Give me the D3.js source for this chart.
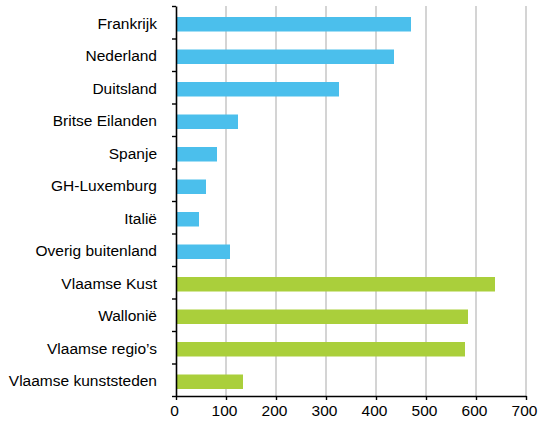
<!DOCTYPE html>
<html>
<head>
<meta charset="utf-8">
<script src="https://cdn.jsdelivr.net/npm/d3@7"></script>
<style>
  body { margin: 0; background: #fff; }
  text { font-family: "Liberation Sans", Arial, sans-serif; }
</style>
</head>
<body>
<div id="chart"></div>
<script>
const width = 540, height = 422, margin = {top: 6, right: 14, bottom: 26, left: 176};

const categories = ["Frankrijk", "Nederland", "Duitsland", "Britse Eilanden", "Spanje", "GH-Luxemburg",
  "Italië", "Overig buitenland", "Vlaamse Kust", "Wallonië", "Vlaamse regio’s", "Vlaamse kunststeden"];
const values = [470, 436, 326, 124, 82, 60, 46, 108, 638, 584, 578, 134];
const groups = ["abroad", "abroad", "abroad", "abroad", "abroad", "abroad", "abroad", "abroad",
  "home", "home", "home", "home"];
const xTicks = [0, 100, 200, 300, 400, 500, 600, 700];

const colors = {abroad: "#4bbfec", home: "#aacf3b"};

const data = categories.map((c, i) => ({name: c, value: values[i], group: groups[i]}));

const svg = d3.select("#chart")
  .append("svg")
  .attr("width", width)
  .attr("height", height);

const x = d3.scaleLinear()
  .domain([0, 700])
  .range([margin.left, width - margin.right]);

const y = d3.scaleBand()
  .domain(categories)
  .range([margin.top, height - margin.bottom]);

// gridlines
svg.append("g")
  .selectAll("line")
  .data(xTicks.slice(1))
  .join("line")
  .attr("x1", d => x(d))
  .attr("x2", d => x(d))
  .attr("y1", margin.top)
  .attr("y2", height - margin.bottom)
  .attr("stroke", "#b8b8b8")
  .attr("stroke-width", 1.2);

const barH = 14.5;
svg.append("g")
  .selectAll("rect")
  .data(data)
  .join("rect")
  .attr("x", x(0))
  .attr("y", d => y(d.name) + (y.bandwidth() - barH) / 2 + 2)
  .attr("width", d => x(d.value) - x(0))
  .attr("height", barH)
  .attr("fill", d => colors[d.group]);

// bottom axis
const xAxis = svg.append("g")
  .attr("transform", `translate(0,${height - margin.bottom})`)
  .call(d3.axisBottom(x).tickValues(xTicks).tickSize(4).tickPadding(5).tickSizeOuter(0));
xAxis.select(".domain").attr("stroke", "#000").attr("stroke-width", 1.6);
xAxis.selectAll(".tick line").attr("stroke", "#000").attr("stroke-width", 1.4);
xAxis.selectAll("text").attr("font-size", 15.5).attr("fill", "#000").attr("dx", -2);

// left axis: ticks at band boundaries
const yEdge = d3.scaleLinear().domain([0, categories.length])
  .range([margin.top, height - margin.bottom]);
const yAxis = svg.append("g")
  .attr("transform", `translate(${margin.left},0)`)
  .call(d3.axisLeft(yEdge).tickValues(d3.range(categories.length + 1)).tickSize(4)
    .tickFormat("").tickSizeOuter(0));
yAxis.select(".domain").attr("stroke", "#000").attr("stroke-width", 1.6);
yAxis.selectAll(".tick line").attr("stroke", "#000").attr("stroke-width", 1.4);

// category labels
svg.append("g")
  .selectAll("text")
  .data(data)
  .join("text")
  .attr("x", margin.left - 19)
  .attr("y", d => y(d.name) + y.bandwidth() / 2 + 1)
  .attr("dy", "0.35em")
  .attr("text-anchor", "end")
  .attr("font-size", 15.5)
  .attr("fill", "#000")
  .text(d => d.name);
</script>
</body>
</html>
